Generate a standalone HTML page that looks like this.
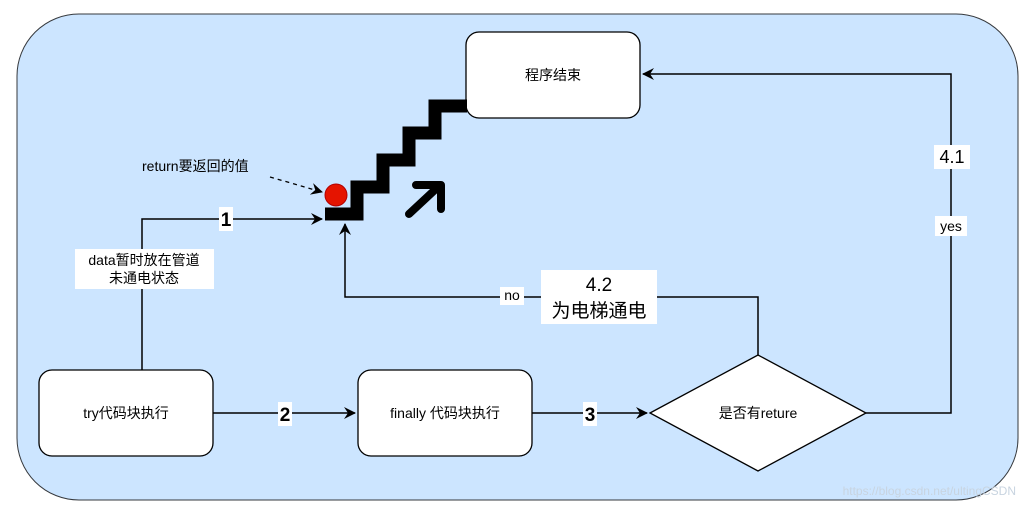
<!DOCTYPE html>
<html><head><meta charset="utf-8"><style>
body{margin:0;background:#fff;}
svg{display:block;font-family:"Liberation Sans","Noto Sans CJK SC",sans-serif;}
</style></head><body>
<svg width="1029" height="508" viewBox="0 0 1029 508">
<defs>
<marker id="a" markerWidth="12" markerHeight="12" refX="11" refY="6" orient="auto" markerUnits="userSpaceOnUse">
<path d="M0,0 L12,6 L0,12 L4,6 z" fill="#000"/></marker>
</defs>
<rect x="17" y="14" width="1001" height="486" rx="62" fill="#cce5ff" stroke="#36393d" stroke-width="1"/>
<rect x="466" y="32" width="174" height="86" rx="13" fill="#fff" stroke="#000" stroke-width="1.3"/>
<text x="553" y="80" font-size="14" text-anchor="middle">程序结束</text>
<polyline points="325,214 357,214 357,187 383,187 383,160 409,160 409,133 435,133 435,106 467,106" fill="none" stroke="#000" stroke-width="13"/>
<line x1="409" y1="214" x2="438" y2="187" stroke="#000" stroke-width="8" stroke-linecap="round"/>
<polyline points="416,185 441,185 441,209" fill="none" stroke="#000" stroke-width="8" stroke-linecap="round" stroke-linejoin="round"/>
<circle cx="336" cy="195" r="11" fill="#e51400" stroke="#b20000"/>
<text x="142" y="171" font-size="14" fill="#000">return要返回的值</text>
<path d="M270,177 L322,192" stroke="#000" stroke-width="1.3" stroke-dasharray="4,4" fill="none" marker-end="url(#a)"/>
<path d="M142,370 V219 H322" stroke="#000" stroke-width="1.5" fill="none" marker-end="url(#a)"/>
<rect x="219" y="207" width="14" height="24" fill="#fff"/>
<text x="226" y="226" font-size="19" font-weight="bold" text-anchor="middle">1</text>
<rect x="75" y="249" width="139" height="40" fill="#fff"/>
<text x="144" y="265" font-size="14" text-anchor="middle">data暂时放在管道</text>
<text x="144" y="283" font-size="14" text-anchor="middle">未通电状态</text>
<rect x="39" y="370" width="174" height="86" rx="13" fill="#fff" stroke="#000" stroke-width="1.3"/>
<text x="126" y="418" font-size="14" text-anchor="middle">try代码块执行</text>
<rect x="358" y="370" width="174" height="86" rx="13" fill="#fff" stroke="#000" stroke-width="1.3"/>
<text x="445" y="418" font-size="14" text-anchor="middle">finally 代码块执行</text>
<path d="M213,413 H355" stroke="#000" stroke-width="1.5" fill="none" marker-end="url(#a)"/>
<rect x="278" y="402" width="14" height="24" fill="#fff"/>
<text x="285" y="421" font-size="19" font-weight="bold" text-anchor="middle">2</text>
<path d="M532,413 H647" stroke="#000" stroke-width="1.5" fill="none" marker-end="url(#a)"/>
<rect x="583" y="402" width="14" height="24" fill="#fff"/>
<text x="590" y="421" font-size="19" font-weight="bold" text-anchor="middle">3</text>
<polygon points="650,413 758,355 866,413 758,471" fill="#fff" stroke="#000" stroke-width="1.3"/>
<text x="758" y="418" font-size="14" text-anchor="middle">是否有reture</text>
<path d="M866,413 H951 V74 H643" stroke="#000" stroke-width="1.5" fill="none" marker-end="url(#a)"/>
<rect x="934" y="145" width="36" height="24" fill="#fff"/>
<text x="952" y="163" font-size="18" text-anchor="middle">4.1</text>
<rect x="935" y="216" width="32" height="20" fill="#fff"/>
<text x="951" y="231" font-size="14" text-anchor="middle">yes</text>
<path d="M758,355 V297 H345 V224" stroke="#000" stroke-width="1.5" fill="none" marker-end="url(#a)"/>
<rect x="500" y="287" width="24" height="18" fill="#fff"/>
<text x="512" y="300" font-size="14" text-anchor="middle">no</text>
<rect x="541" y="270" width="116" height="54" fill="#fff"/>
<text x="599" y="291" font-size="19" text-anchor="middle">4.2</text>
<text x="599" y="317" font-size="19" text-anchor="middle">为电梯通电</text>
<text x="1016" y="495" font-size="12" fill="#c8d4e0" text-anchor="end">https://blog.csdn.net/ultingCSDN</text>
</svg>
</body></html>
